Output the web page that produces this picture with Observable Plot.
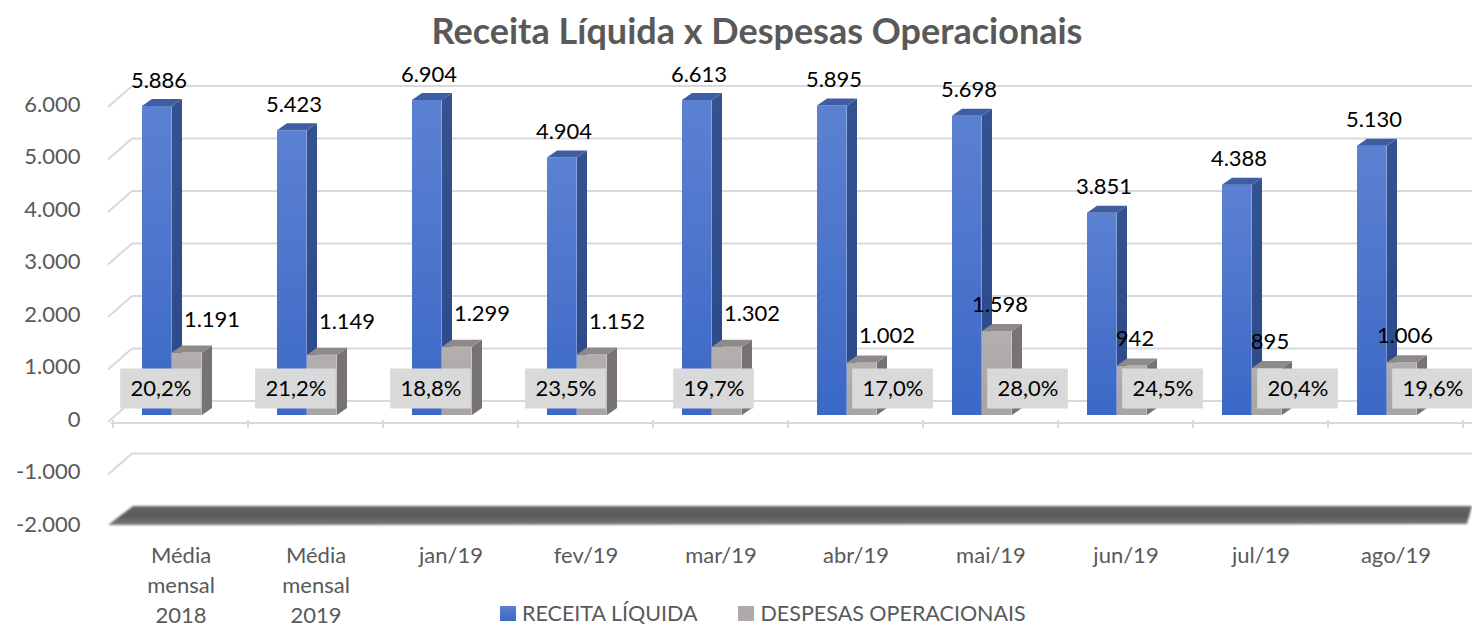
<!DOCTYPE html>
<html>
<head>
<meta charset="utf-8">
<script src="https://cdn.jsdelivr.net/npm/d3@7"></script>
<script src="https://cdn.jsdelivr.net/npm/@observablehq/plot@0.6"></script>
<style>
  html, body { margin: 0; padding: 0; background: #fff; }
  #wrap { position: relative; width: 1472px; height: 629px; overflow: hidden; font-family: Lato, "Open Sans", sans-serif; }
  #chart { position: absolute; left: 0; top: 0; }
  #title { position: absolute; left: 21px; top: 7px; width: 1472px; text-align: center; font-weight: bold; font-size: 36px; line-height: 46px; color: #595959; }
  #legend { position: absolute; left: 500px; top: 601px; display: flex; align-items: center; font-size: 21.5px; color: #595959; line-height: 24px; }
  #legend .sw { display: inline-block; width: 16px; height: 15px; margin-right: 6px; }
  #legend .item { display: flex; align-items: center; margin-right: 41px; }
</style>
</head>
<body>
<div id="wrap">
  <div id="chart"></div>
  <div id="title">Receita Líquida x Despesas Operacionais</div>
  <div id="legend">
    <span class="item"><span class="sw" style="background:linear-gradient(#5b80d0,#3c69c6)"></span>RECEITA LÍQUIDA</span>
    <span class="item"><span class="sw" style="background:#aeaaaa"></span>DESPESAS OPERACIONAIS</span>
  </div>
</div>
<script>
// ---- data ----
const categories = ["Média\nmensal\n2018", "Média\nmensal\n2019", "jan/19", "fev/19", "mar/19", "abr/19", "mai/19", "jun/19", "jul/19", "ago/19"];
const receitaLiquida = [5886, 5423, 6904, 4904, 6613, 5895, 5698, 3851, 4388, 5130];
const despesasOperacionais = [1191, 1149, 1299, 1152, 1302, 1002, 1598, 942, 895, 1006];
const percentDespesas = [20.2, 21.2, 18.8, 23.5, 19.7, 17.0, 28.0, 24.5, 20.4, 19.6];
const yTicks = [-2000, -1000, 0, 1000, 2000, 3000, 4000, 5000, 6000];

const rows = categories.map((c, k) => ({k, cat: c, receita: receitaLiquida[k], despesas: despesasOperacionais[k], pct: percentDespesas[k]}));

const loc = d3.formatLocale({decimal: ",", thousands: ".", grouping: [3], currency: ["R$", ""], minus: "-"});
const fmtInt = loc.format(",d");
const fmtPct = v => loc.format(",.1f")(v) + "%";

// bar geometry inside each band (pixels)
const BLUE_L = 29, BLUE_R = 59, GRAY_L = 59, GRAY_R = 89, DEPTH_X = 10, DEPTH_Y = 7;

function defsMark() {
  const svgns = "http://www.w3.org/2000/svg";
  const g = document.createElementNS(svgns, "g");
  g.innerHTML = `
  <defs>
    <linearGradient id="blueFront" x1="0" y1="0" x2="0" y2="1">
      <stop offset="0" stop-color="#5c81d1"/><stop offset="1" stop-color="#3b68c6"/>
    </linearGradient>
    <linearGradient id="blueSide" x1="0" y1="0" x2="0" y2="1">
      <stop offset="0" stop-color="#34528f"/><stop offset="1" stop-color="#2c4a8a"/>
    </linearGradient>
    <linearGradient id="grayFront" x1="0" y1="0" x2="0" y2="1">
      <stop offset="0" stop-color="#b3afaf"/><stop offset="1" stop-color="#a8a4a4"/>
    </linearGradient>
    <linearGradient id="slab" x1="0" y1="0" x2="0" y2="1">
      <stop offset="0" stop-color="#6a6a6a"/><stop offset="0.5" stop-color="#585858"/><stop offset="1" stop-color="#7a7a7a"/>
    </linearGradient>
    <filter id="soft" x="-5%" y="-50%" width="110%" height="200%"><feGaussianBlur stdDeviation="0.9"/></filter>
  </defs>`;
  return g;
}

function gridMark(index, scales, values, dims) {
  const {y} = scales;
  const g = d3.create("svg:g");
  const x0 = dims.marginLeft;
  for (const t of yTicks) {
    const yy = y(t);
    if (t === -2000) continue;
    g.append("line").attr("x1", x0 + 21).attr("x2", dims.width).attr("y1", yy - 14).attr("y2", yy - 14)
      .attr("stroke", "#d9d9d9").attr("stroke-width", 2);
    g.append("line").attr("x1", x0 - 3).attr("x2", x0 + 21).attr("y1", yy + 7).attr("y2", yy - 14)
      .attr("stroke", "#d9d9d9").attr("stroke-width", 2);
  }
  // floor slab at the minimum of the value axis
  const yf = y(-2000);
  g.append("path")
    .attr("d", `M${x0 - 3},${yf + 5}L${x0 + 22},${yf - 14}L${dims.width},${yf - 14}L${dims.width - 5},${yf + 4}Z`)
    .attr("fill", "url(#slab)").attr("filter", "url(#soft)");
  // front category axis line with band ticks
  const y0 = y(0) + 8;
  g.append("line").attr("x1", x0).attr("x2", dims.width).attr("y1", y0).attr("y2", y0)
    .attr("stroke", "#d9d9d9").attr("stroke-width", 2);
  const {x} = scales;
  const bw = x.bandwidth ? x.bandwidth() : (dims.width - dims.marginLeft - dims.marginRight) / categories.length;
  for (let k = 0; k <= categories.length; k++) {
    const xx = k < categories.length ? x(categories[k]) : x(categories[k - 1]) + bw;
    g.append("line").attr("x1", xx).attr("x2", xx).attr("y1", y0 - 3).attr("y2", y0 + 5)
      .attr("stroke", "#d9d9d9").attr("stroke-width", 2);
  }
  return g.node();
}

function faces(field, left, right, sideFill, topFill) {
  return (index, scales) => {
    const {x, y} = scales;
    const g = d3.create("svg:g");
    for (const d of rows) {
      const xl = x(d.cat) + left, xr = x(d.cat) + right;
      const yt = y(d[field]), yb = y(0);
      g.append("path")
        .attr("d", `M${xr},${yb}L${xr + DEPTH_X},${yb - DEPTH_Y}L${xr + DEPTH_X},${yt - DEPTH_Y}L${xr},${yt}Z`)
        .attr("fill", sideFill);
      g.append("path")
        .attr("d", `M${xl},${yt}L${xl + DEPTH_X},${yt - DEPTH_Y}L${xr + DEPTH_X},${yt - DEPTH_Y}L${xr},${yt}Z`)
        .attr("fill", topFill);
    }
    return g.node();
  };
}

const BW = (1464 - 111) / categories.length;

const plot = Plot.plot({
  width: 1472,
  height: 629,
  marginTop: 100,
  marginBottom: 109,
  marginLeft: 111,
  marginRight: 8,
  x: {domain: categories, padding: 0, axis: null},
  y: {domain: [-2000, 6000], clamp: true, axis: null},
  style: {fontFamily: "Lato, 'Open Sans', sans-serif", fontSize: "22px", background: "white", overflow: "visible"},
  marks: [
    defsMark,
    gridMark,
    // blue bars (front faces through the library's scales)
    Plot.barY(rows, {x: "cat", y1: 0, y2: "receita", fill: "url(#blueFront)", insetLeft: BLUE_L, insetRight: BW - BLUE_R}),
    faces("receita", BLUE_L, BLUE_R, "url(#blueSide)", "#3f5da3"),
    // gray bars
    Plot.barY(rows, {x: "cat", y1: 0, y2: "despesas", fill: "url(#grayFront)", insetLeft: GRAY_L, insetRight: BW - GRAY_R}),
    faces("despesas", GRAY_L, GRAY_R, "#777373", "#8e8a8a"),
    // y tick labels
    Plot.text(yTicks, {y: d => d, text: d => fmtInt(d), frameAnchor: "left", textAnchor: "end", dx: -31, dy: 4, fill: "#595959", fontSize: 22}),
    // x tick labels
    Plot.text(categories, {x: d => d, y: () => -2000, text: d => d, lineAnchor: "top", lineHeight: 1.37, dy: 21, fill: "#595959", fontSize: 22}),
    // value labels: receita
    Plot.text(rows, {x: "cat", y: "receita", text: d => fmtInt(d.receita), dx: -22, dy: -26, fill: "#000", fontSize: 22}),
    // value labels: despesas
    Plot.text(rows, {filter: d => d.k <= 4, x: "cat", y: "despesas", text: d => fmtInt(d.despesas), dx: 31, dy: -33, fill: "#000", fontSize: 22}),
    Plot.text(rows, {filter: d => d.k === 5, x: "cat", y: "despesas", text: d => fmtInt(d.despesas), dx: 31, dy: -27, fill: "#000", fontSize: 22}),
    Plot.text(rows, {filter: d => d.k >= 6, x: "cat", y: "despesas", text: d => fmtInt(d.despesas), dx: 9, dy: -27, fill: "#000", fontSize: 22}),
    // percentage boxes
    Plot.tickY(rows, {filter: d => d.k <= 3, x: "cat", y: () => 0, dy: -27, dx: -20, stroke: "#d9d9d9", strokeWidth: 40, insetLeft: (BW - 81) / 2, insetRight: (BW - 81) / 2}),
    Plot.tickY(rows, {filter: d => d.k === 4, x: "cat", y: () => 0, dy: -27, dx: -7, stroke: "#d9d9d9", strokeWidth: 40, insetLeft: (BW - 81) / 2, insetRight: (BW - 81) / 2}),
    Plot.tickY(rows, {filter: d => d.k >= 5, x: "cat", y: () => 0, dy: -27, dx: 37, stroke: "#d9d9d9", strokeWidth: 40, insetLeft: (BW - 81) / 2, insetRight: (BW - 81) / 2}),
    Plot.text(rows, {filter: d => d.k <= 3, x: "cat", y: () => 0, dy: -27, dx: -20, text: d => fmtPct(d.pct), fill: "#000", fontSize: 22}),
    Plot.text(rows, {filter: d => d.k === 4, x: "cat", y: () => 0, dy: -27, dx: -7, text: d => fmtPct(d.pct), fill: "#000", fontSize: 22}),
    Plot.text(rows, {filter: d => d.k >= 5, x: "cat", y: () => 0, dy: -27, dx: 37, text: d => fmtPct(d.pct), fill: "#000", fontSize: 22})
  ]
});
document.getElementById("chart").appendChild(plot);
</script>
</body>
</html>
